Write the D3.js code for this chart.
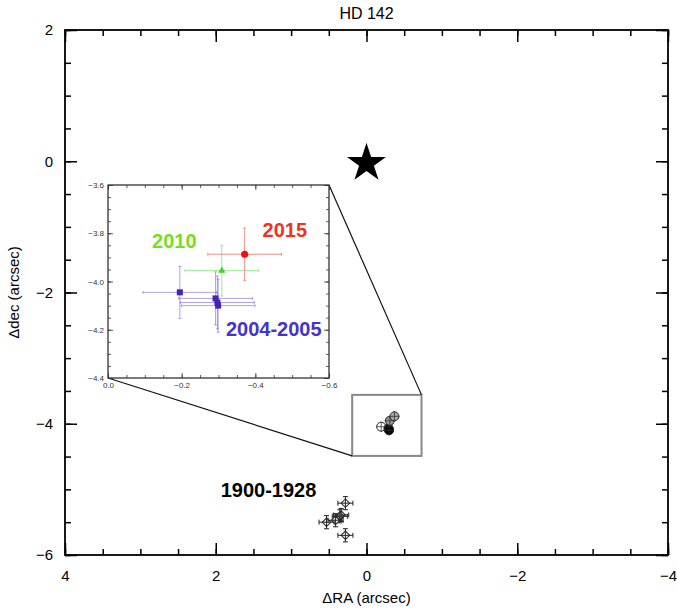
<!DOCTYPE html>
<html><head><meta charset="utf-8">
<script src="https://cdn.jsdelivr.net/npm/d3@7"></script>
<style>body{margin:0;background:#fff}svg{display:block;font-family:"Liberation Sans",Arial,Helvetica,sans-serif}</style>
</head><body><svg id="c" width="677" height="610"></svg>
<script>
// ---------- data ----------
const title = "HD 142";
const xTicksMain = [4, 2, 0, -2, -4];
const yTicksMain = [2, 0, -2, -4, -6];
const xTicksInset = [0, -0.2, -0.4, -0.6];
const yTicksInset = [-3.6, -3.8, -4.0, -4.2, -4.4];

// 1900-1928 historical measurements
const raOld  = [0.28, 0.53, 0.41, 0.354, 0.336, 0.28];
const decOld = [-5.21, -5.50, -5.47, -5.41, -5.39, -5.70];
const eraOld = [0.10, 0.10, 0.10, 0.10, 0.10, 0.10];
const edecOld = [0.10, 0.10, 0.10, 0.10, 0.10, 0.10];

// 2004-2005
const ra0405  = [-0.195, -0.292, -0.297, -0.299];
const dec0405 = [-4.045, -4.070, -4.087, -4.100];
const era0405 = [0.10, 0.10, 0.10, 0.10];
const edec0405 = [0.108, 0.11, 0.11, 0.11];
// 2010
const ra2010 = [-0.309], dec2010 = [-3.955], era2010 = [0.10], edec2010 = [0.105];
// 2015
const ra2015 = [-0.371], dec2015 = [-3.887], era2015 = [0.10], edec2015 = [0.108];

const star = [{ra: 0, dec: 0}];
const zoomBox = {ra: [0.19, -0.73], dec: [-3.56, -4.49]};

// ---------- setup ----------
const svg = d3.select("#c");
const x = d3.scaleLinear().domain([4, -4]).range([65, 668]);
const y = d3.scaleLinear().domain([2, -6]).range([30, 555]);
const ix = d3.scaleLinear().domain([0, -0.6]).range([108, 329]);
const iy = d3.scaleLinear().domain([-3.6, -4.4]).range([185, 378]);

function range(a, b, step) { const o = []; const n = Math.round((b - a) / step); for (let i = 0; i <= n; i++) o.push(+(a + i * step).toFixed(4)); return o; }

function framedAxes(g, sx, sy, opt) {
  const [x0, x1] = sx.range(), [y0, y1] = sy.range();
  const xd = sx.domain(), yd = sy.domain();
  const xMinor = range(Math.min(...xd), Math.max(...xd), opt.xMinor);
  const yMinor = range(Math.min(...yd), Math.max(...yd), opt.yMinor);
  const mk = (axisFn, scale, vals, size, labels, pad) => axisFn(scale).tickValues(vals).tickSize(size)
      .tickPadding(pad).tickFormat(labels ? opt.fmt : "");
  // bottom
  g.append("g").attr("transform", `translate(0,${y1})`).call(mk(d3.axisBottom, sx, xMinor, -opt.minor, false, 0));
  g.append("g").attr("transform", `translate(0,${y1})`).call(mk(d3.axisBottom, sx, opt.xTicks, -opt.major, true, opt.xPad));
  // top
  g.append("g").attr("transform", `translate(0,${y0})`).call(mk(d3.axisTop, sx, xMinor, -opt.minor, false, 0));
  g.append("g").attr("transform", `translate(0,${y0})`).call(mk(d3.axisTop, sx, opt.xTicks, -opt.major, false, 0));
  // left
  g.append("g").attr("transform", `translate(${x0},0)`).call(mk(d3.axisLeft, sy, yMinor, -opt.minor, false, 0));
  g.append("g").attr("transform", `translate(${x0},0)`).call(mk(d3.axisLeft, sy, opt.yTicks, -opt.major, true, opt.yPad));
  // right
  g.append("g").attr("transform", `translate(${x1},0)`).call(mk(d3.axisRight, sy, yMinor, -opt.minor, false, 0));
  g.append("g").attr("transform", `translate(${x1},0)`).call(mk(d3.axisRight, sy, opt.yTicks, -opt.major, false, 0));
  g.selectAll(".domain").remove();
  g.selectAll(".tick line").attr("stroke", opt.color).attr("stroke-width", opt.tickW);
  g.selectAll(".tick text").attr("fill", opt.color).style("font-size", opt.font + "px").attr("font-family", null);
  g.append("rect").attr("x", x0).attr("y", y0).attr("width", x1 - x0).attr("height", y1 - y0)
    .attr("fill", "none").attr("stroke", opt.color).attr("stroke-width", opt.frameW);
}

// ---------- main panel ----------
const gMain = svg.append("g");
framedAxes(gMain, x, y, {xTicks: xTicksMain, yTicks: yTicksMain, xMinor: 0.5, yMinor: 0.5,
  major: 12, minor: 6, xPad: 15, yPad: 12, font: 15, color: "#000", tickW: 1.5, frameW: 1.8, fmt: d3.format("d")});

svg.append("text").attr("x", (x.range()[0] + x.range()[1]) / 2).attr("y", 19).attr("text-anchor", "middle")
  .style("font-size", "16px").text(title);
svg.append("text").attr("x", (x.range()[0] + x.range()[1]) / 2).attr("y", 603).attr("text-anchor", "middle")
  .style("font-size", "15px").text("ΔRA (arcsec)");
svg.append("text").attr("transform", `translate(19,${(y.range()[0] + y.range()[1]) / 2}) rotate(-90)`)
  .attr("text-anchor", "middle").style("font-size", "15px").text("Δdec (arcsec)");

// star
svg.selectAll(".star").data(star).join("path").attr("class", "star")
  .attr("transform", d => `translate(${x(d.ra)},${y(d.dec) + 2})`)
  .attr("d", d3.symbol(d3.symbolStar, 470)).attr("fill", "#000");

// historical points with error bars
function errBars(g, sx, sy, ra, dec, era, edec, color, width, cap) {
  ra.forEach((r, i) => {
    const cx = sx(r), cy = sy(dec[i]);
    const xa = sx(r - era[i]), xb = sx(r + era[i]), ya = sy(dec[i] - edec[i]), yb = sy(dec[i] + edec[i]);
    const e = g.append("g").attr("stroke", color).attr("stroke-width", width);
    e.append("line").attr("x1", xa).attr("x2", xb).attr("y1", cy).attr("y2", cy);
    e.append("line").attr("x1", cx).attr("x2", cx).attr("y1", ya).attr("y2", yb);
    [xa, xb].forEach(xx => e.append("line").attr("x1", xx).attr("x2", xx).attr("y1", cy - cap).attr("y2", cy + cap));
    [ya, yb].forEach(yy => e.append("line").attr("y1", yy).attr("y2", yy).attr("x1", cx - cap).attr("x2", cx + cap));
  });
}
const gOld = svg.append("g");
errBars(gOld, x, y, raOld, decOld, eraOld, edecOld, "#222", 1, 2.5);
gOld.selectAll("path.dia").data(raOld).join("path").attr("class", "dia")
  .attr("transform", (d, i) => `translate(${x(d)},${y(decOld[i])}) rotate(45)`)
  .attr("d", d3.symbol(d3.symbolSquare, 36)).attr("fill", "none").attr("stroke", "#222").attr("stroke-width", 1);
svg.append("text").attr("x", x(1.3)).attr("y", y(-5.12)).attr("text-anchor", "middle")
  .style("font-size", "20px").style("font-weight", "bold").text("1900-1928");

// recent points at main scale
const recent = [];
ra0405.forEach((r, i) => recent.push({ra: r, dec: dec0405[i], fill: i === 0 ? "#fff" : "#000"}));
ra2010.forEach((r, i) => recent.push({ra: r, dec: dec2010[i], fill: "#999"}));
ra2015.forEach((r, i) => recent.push({ra: r, dec: dec2015[i], fill: "#aaa"}));
const gRec = svg.append("g");
recent.forEach(d => {
  const cx = x(d.ra), cy = y(d.dec);
  gRec.append("circle").attr("cx", cx).attr("cy", cy).attr("r", 4.5).attr("fill", d.fill).attr("stroke", "#222").attr("stroke-width", 1);
  gRec.append("path").attr("d", `M${cx - 5},${cy}H${cx + 5}M${cx},${cy - 5}V${cy + 5}`).attr("stroke", "#333").attr("stroke-width", 0.8);
});

// zoom box
svg.append("rect").attr("x", x(zoomBox.ra[0])).attr("y", y(zoomBox.dec[0]))
  .attr("width", x(zoomBox.ra[1]) - x(zoomBox.ra[0])).attr("height", y(zoomBox.dec[1]) - y(zoomBox.dec[0]))
  .attr("fill", "none").attr("stroke", "#888").attr("stroke-width", 2);
// connectors
svg.append("line").attr("x1", ix.range()[1]).attr("y1", iy.range()[0]).attr("x2", x(zoomBox.ra[1])).attr("y2", y(zoomBox.dec[0]))
  .attr("stroke", "#111").attr("stroke-width", 1.2);
svg.append("line").attr("x1", ix.range()[0]).attr("y1", iy.range()[1]).attr("x2", x(zoomBox.ra[0])).attr("y2", y(zoomBox.dec[1]))
  .attr("stroke", "#111").attr("stroke-width", 1.2);

// ---------- inset ----------
const gIn = svg.append("g");
gIn.append("rect").attr("x", ix.range()[0]).attr("y", iy.range()[0]).attr("width", ix.range()[1] - ix.range()[0])
  .attr("height", iy.range()[1] - iy.range()[0]).attr("fill", "#fff");
framedAxes(gIn, ix, iy, {xTicks: xTicksInset, yTicks: yTicksInset, xMinor: 0.05, yMinor: 0.05,
  major: 5, minor: 3, xPad: 4, yPad: 4, font: 8, color: "#333", tickW: 0.8, frameW: 1.3, fmt: d3.format(".1f")});

const gInPts = gIn.append("g");
errBars(gInPts, ix, iy, ra0405, dec0405, era0405, edec0405, "rgba(110,90,210,0.55)", 1, 1.5);
errBars(gInPts, ix, iy, ra2010, dec2010, era2010, edec2010, "rgba(120,220,110,0.7)", 1, 1.5);
errBars(gInPts, ix, iy, ra2015, dec2015, era2015, edec2015, "rgba(230,100,90,0.7)", 1, 1.5);
gInPts.selectAll("path.sq").data(ra0405).join("path").attr("class", "sq")
  .attr("transform", (d, i) => `translate(${ix(d)},${iy(dec0405[i])})`)
  .attr("d", d3.symbol(d3.symbolSquare, 36)).attr("fill", "#4422bb");
gInPts.selectAll("path.tri").data(ra2010).join("path").attr("class", "tri")
  .attr("transform", (d, i) => `translate(${ix(d)},${iy(dec2010[i])})`)
  .attr("d", d3.symbol(d3.symbolTriangle, 22)).attr("fill", "#33dd22");
gInPts.selectAll("circle.c15").data(ra2015).join("circle").attr("class", "c15")
  .attr("cx", d => ix(d)).attr("cy", (d, i) => iy(dec2015[i])).attr("r", 3.6).attr("fill", "#ee1111");

const yearLabels = [
  {t: "2010", ra: -0.18, dec: -3.86, c: "#77dd22"},
  {t: "2015", ra: -0.48, dec: -3.815, c: "#ee3322"},
  {t: "2004-2005", ra: -0.45, dec: -4.225, c: "#4433cc"}
];
gIn.selectAll("text.yl").data(yearLabels).join("text").attr("class", "yl")
  .attr("x", d => ix(d.ra)).attr("y", d => iy(d.dec)).attr("text-anchor", "middle")
  .style("font-size", "20px").style("font-weight", "bold").attr("fill", d => d.c).text(d => d.t);
</script></body></html>
